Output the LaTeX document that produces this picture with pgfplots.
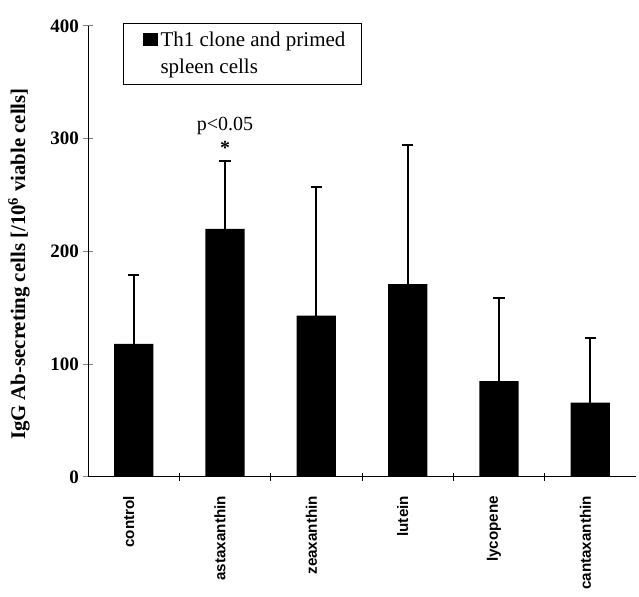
\documentclass[border=0pt]{standalone}
\usepackage{fontspec}
\setmainfont{Liberation Serif}
\setsansfont{Liberation Sans}
\usepackage{pgfplots}
\pgfplotsset{compat=1.18}
\begin{document}
\begin{tikzpicture}
\begin{axis}[
  scale only axis, width=274pt, height=225.5pt,
  xmin=-0.5, xmax=5.5, ymin=0, ymax=400,
  axis lines=left, axis line style={-, line width=0.5pt},
  clip=false,
  ytick={0,100,200,300,400},
  xtick={0,1,2,3,4,5},
  xticklabels={control,astaxanthin,zeaxanthin,lutein,lycopene,cantaxanthin},
  minor xtick={0.5,1.5,2.5,3.5,4.5},
  tick align=center,
  major tick length=5pt, minor tick length=4pt,
  xtick style={draw=none},
  minor x tick style={draw=black, line width=0.5pt},
  ytick style={line width=0.5pt},
  /pgf/number format/assume math mode=true,
  yticklabel style={xshift=1.5pt, font=\bfseries\fontsize{9.5}{11}\selectfont},
  xticklabel shift=3.5pt,
  xticklabel style={xshift=-2.5pt, rotate=90, anchor=east, font=\sffamily\bfseries\fontsize{7.6}{9}\selectfont},
  ylabel={IgG Ab-secreting cells [/10\textsuperscript{6} viable cells]},
  ylabel style={at={(axis description cs:-0.126,0.472)}, anchor=center, font=\bfseries\fontsize{10.4}{12}\selectfont},
  legend cell align=left,
  legend style={at={(rel axis cs:0.064,1.007)}, anchor=north west, draw=black, line width=0.5pt,
    inner xsep=8pt, inner ysep=4pt, row sep=4.5pt, column sep=1.5pt,
    nodes={inner sep=0pt, text height=7.5pt, text depth=1.5pt},
    font=\fontsize{10.5}{13.5}\selectfont},
]
\addplot[ybar, bar width=0.43, fill=black, draw=none,
  legend image code/.code={\path[draw=none, fill=none] (0pt,0pt) rectangle (1.5pt,0pt); \fill[black] (1.5pt,-3pt) rectangle (9pt,3.5pt);},
  error bars/.cd, y dir=plus, y explicit,
  error bar style={line width=1pt, black},
  error mark options={rotate=90, line width=1pt, mark size=2.8pt, black}]
  table[x=x, y=y, y error=e] {
x y e
0 118 61
1 220 60
2 143 114
3 171 123
4 85 74
5 66 57
};
\addlegendentry{Th1 clone and primed}
\addlegendimage{empty legend}
\addlegendentry{spleen cells}
\node[anchor=base, font=\fontsize{10}{12}\selectfont] at (axis cs:1,307) {p<0.05};
\node[font=\bfseries\fontsize{10}{12}\selectfont] at (axis cs:1,292) {*};
\path (rel axis cs:-0.1606,-0.255) rectangle (rel axis cs:1.0055,1.0576);
\end{axis}
\end{tikzpicture}
\end{document}
